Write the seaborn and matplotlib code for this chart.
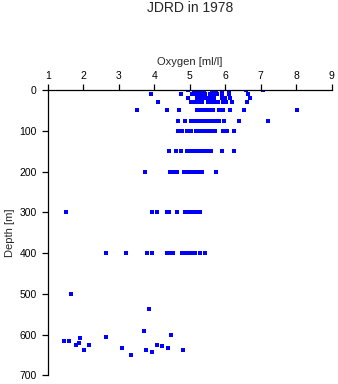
import matplotlib
matplotlib.use("Agg")
import matplotlib.pyplot as plt
import numpy as np
import pandas as pd
import seaborn as sns

# Oxygen readings (ml/l) grouped by sampling depth (m)
depth_levels = [0, 10, 20, 30, 50, 75, 100, 150, 200, 300, 400]

oxygen_0 = [4.96, 5.13, 5.20, 5.27, 5.34, 5.40, 5.62, 5.68, 5.73, 5.90, 6.12, 6.59, 7.07]
oxygen_10 = [3.90, 4.75, 5.07, 5.14, 5.21, 5.28, 5.35, 5.42, 5.57, 5.64, 5.71, 5.78, 5.90, 6.10, 6.65]
oxygen_20 = [4.96, 5.20, 5.27, 5.34, 5.41, 5.48, 5.55, 5.62, 5.69, 5.92, 6.00, 6.14, 6.71]
oxygen_30 = [4.10, 5.04, 5.13, 5.20, 5.27, 5.36, 5.52, 5.59, 5.66, 5.73, 5.81, 5.95, 6.02, 6.19, 6.62]
oxygen_50 = [3.52, 4.37, 4.71, 5.20, 5.31, 5.38, 5.45, 5.52, 5.59, 5.66, 5.82, 5.93, 6.14, 6.54, 8.03]
oxygen_75 = [4.68, 4.88, 5.03, 5.13, 5.24, 5.31, 5.38, 5.45, 5.52, 5.62, 5.69, 5.76, 5.83, 5.97, 6.40, 7.21]
oxygen_100 = [4.68, 4.77, 4.92, 5.03, 5.18, 5.25, 5.32, 5.39, 5.46, 5.52, 5.64, 5.71, 5.95, 6.04, 6.25]
oxygen_150 = [4.43, 4.62, 4.76, 4.93, 5.00, 5.07, 5.14, 5.21, 5.28, 5.34, 5.41, 5.52, 5.59, 5.92, 6.25]
oxygen_200 = [3.75, 4.45, 4.56, 4.63, 4.85, 4.93, 5.00, 5.07, 5.14, 5.21, 5.29, 5.36, 5.75]
oxygen_300 = [1.52, 3.93, 4.09, 4.35, 4.41, 4.63, 4.87, 4.93, 4.99, 5.10, 5.17, 5.23, 5.29]
oxygen_400 = [2.65, 3.21, 3.79, 3.95, 4.35, 4.41, 4.54, 4.78, 4.84, 4.93, 5.05, 5.16, 5.30, 5.44]

# Deep casts with individual depths
deep_oxygen = [1.66, 3.86, 1.47, 1.60, 1.80, 1.89, 1.92, 2.03, 2.17, 2.63, 3.09, 3.35,
               3.71, 3.76, 3.95, 4.09, 4.22, 4.40, 4.48, 4.82]
deep_depth = [500, 538, 617, 615, 625, 620, 608, 637, 625, 605, 634, 649,
              592, 637, 642, 625, 629, 632, 600, 639]

x_ticks = [1, 2, 3, 4, 5, 6, 7, 8, 9]
y_ticks = [0, 100, 200, 300, 400, 500, 600, 700]

level_values = [oxygen_0, oxygen_10, oxygen_20, oxygen_30, oxygen_50, oxygen_75,
                oxygen_100, oxygen_150, oxygen_200, oxygen_300, oxygen_400]
rows = []
for d, vals in zip(depth_levels, level_values):
    rows += [(v, d) for v in vals]
rows += list(zip(deep_oxygen, deep_depth))
df = pd.DataFrame(rows, columns=["oxygen", "depth"])

sns.set_style("white")
plt.rcParams["font.family"] = ["Liberation Sans", "DejaVu Sans"]

fig = plt.figure(figsize=(3.38, 3.84), dpi=100)
ax = fig.add_axes([47.7 / 338, 1 - 375.3 / 384, 284.0 / 338, 285.3 / 384])

sns.scatterplot(data=df, x="oxygen", y="depth", ax=ax, marker="s", s=4.8,
                color="#0000ff", linewidth=0, legend=False)

ax.set_xlim(1, 9)
ax.set_ylim(700, 0)
ax.set_xticks(x_ticks)
ax.set_yticks(y_ticks)
ax.xaxis.tick_top()
ax.xaxis.set_label_position("top")
for side in ["right", "bottom"]:
    ax.spines[side].set_visible(False)
for side in ["top", "left"]:
    ax.spines[side].set_color("black")
    ax.spines[side].set_linewidth(0.9)

ax.tick_params(axis="x", which="major", direction="out", length=4.3, width=0.9,
               pad=2.5, labelsize=7.5, colors="black", top=True, bottom=False)
ax.tick_params(axis="y", which="major", direction="out", length=4.3, width=0.9,
               pad=3.5, labelsize=7.5, colors="black", left=True)

ax.set_xlabel("Oxygen [ml/l]", fontsize=8, labelpad=4)
ax.set_ylabel("Depth [m]", fontsize=8, labelpad=3)

fig.text(189.7 / 338, 1 - 8.5 / 384, "JDRD in 1978", ha="center", va="center", fontsize=10)

fig.savefig("out.png", dpi=100)
